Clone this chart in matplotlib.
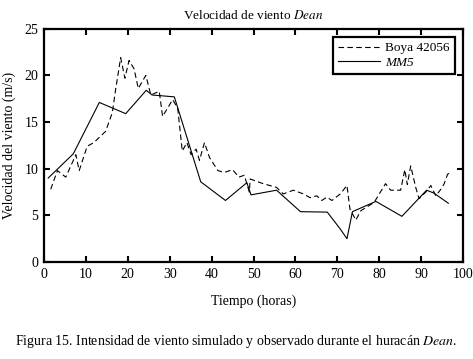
import matplotlib
matplotlib.use('Agg')
from matplotlib import pyplot as plt
from matplotlib.lines import Line2D

# observed (buoy 42056), hours / m/s
boya_x = [1.6, 3.2, 5.2, 7.6, 8.4, 10.3, 11.9, 14.7, 16.3, 17.1, 18.3, 19.3,
          20.3, 21.5, 22.5, 24.3, 25.5, 27.5, 28.3, 30.7, 31.9, 33.0, 34.1,
          35.1, 36.3, 37.1, 38.3, 39.5, 41.5, 43.0, 45.0, 46.5, 47.8, 49.0,
          49.2, 52.3, 55.5, 57.1, 59.5, 61.9, 63.5, 65.1, 66.3, 67.5, 68.7,
          70.7, 72.3, 73.0, 74.4, 75.6, 78.8, 80.0, 81.5, 82.7, 85.1, 86.1,
          86.7, 87.5, 88.7, 89.5, 91.1, 92.3, 93.5, 94.7, 95.5, 96.3, 97.0]
boya_y = [7.8, 9.8, 9.1, 11.5, 9.8, 12.4, 12.8, 14.0, 16.0, 18.5, 21.9, 19.7,
          21.6, 20.7, 18.6, 20.0, 17.9, 18.3, 15.6, 17.4, 16.5, 11.9, 12.8,
          11.5, 12.1, 10.9, 12.8, 11.2, 9.8, 9.6, 9.9, 9.1, 9.3, 7.5,
          8.9, 8.4, 8.0, 7.3, 7.7, 7.3, 6.9, 7.1, 6.6, 6.95, 6.6,
          7.3, 8.2, 5.7, 4.5, 5.5, 6.4, 7.3, 8.4, 7.7, 7.7, 9.9,
          8.3, 10.3, 8.0, 6.8, 7.5, 8.2, 7.1, 7.8, 8.4, 9.4, 9.6]

# simulated (MM5)
mm5_x = [1.0, 7.0, 13.2, 19.5, 24.4, 25.8, 31.1, 37.4, 43.3, 48.4, 49.4,
         55.5, 61.2, 67.6, 70.6, 72.3, 73.6, 79.2, 85.4, 91.3, 93.0, 96.5]
mm5_y = [9.0, 11.6, 17.1, 15.9, 18.4, 17.9, 17.7, 8.6, 6.6, 8.5, 7.2,
         7.7, 5.4, 5.35, 3.6, 2.5, 5.4, 6.5, 4.9, 7.7, 7.4, 6.3]

plt.rcParams['font.family'] = ['Liberation Serif', 'DejaVu Serif']
plt.rcParams['mathtext.fontset'] = 'stix'

fig = plt.figure(figsize=(4.73, 3.59), dpi=100)
ax = fig.add_axes([0.093, 0.270, 0.886, 0.650])

ax.plot(boya_x, boya_y, color='black', linestyle=(0, (5, 3)), linewidth=0.8)
ax.plot(mm5_x, mm5_y, color='black', linestyle='-', linewidth=0.8)

ax.set_xlim(0, 100)
ax.set_ylim(0, 25)
ax.set_xticks(range(0, 101, 10))
ax.set_yticks(range(0, 26, 5))
ax.tick_params(direction='in', length=4, width=1.5, top=True, right=True,
               labelsize=10, pad=4)
for spine in ax.spines.values():
    spine.set_linewidth(1.6)

ax.set_title('Velocidad de viento $\\it{Dean}$', fontsize=9.5, pad=7)
ax.set_xlabel('Tiempo (horas)', fontsize=10, labelpad=10)
ax.set_ylabel('Velocidad del viento (m/s)', fontsize=10, labelpad=6)

handles = [Line2D([], [], color='black', linestyle=(0, (5, 3)), linewidth=0.8),
           Line2D([], [], color='black', linestyle='-', linewidth=0.8)]
leg = ax.legend(handles, ['Boya 42056', 'MM5'], loc='upper right',
                fontsize=9.5, frameon=True, fancybox=False, framealpha=1,
                edgecolor='black', borderpad=0.4, labelspacing=0.2,
                handlelength=3.2, handletextpad=0.4, borderaxespad=0.6)
leg.get_frame().set_linewidth(1.6)
leg.get_texts()[1].set_fontstyle('italic')

fig.text(0.5, 0.038, 'Figura 15. Intensidad de viento simulado y observado '
         'durante el huracán $\\it{Dean}$.', ha='center', fontsize=10)

fig.savefig('out.png', dpi=100)
